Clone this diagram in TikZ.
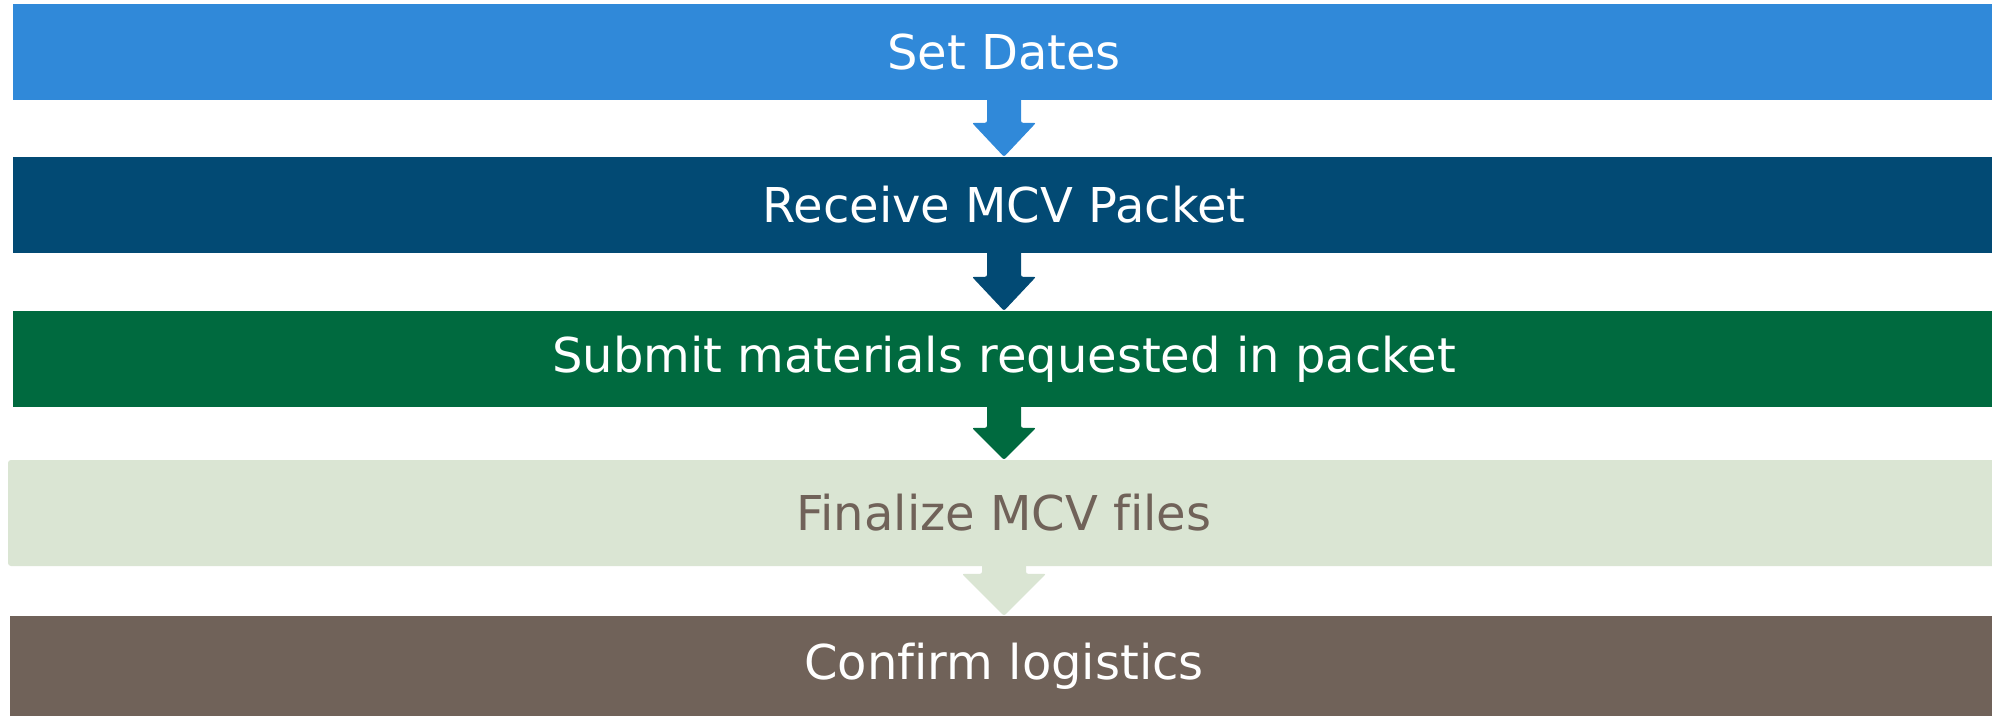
\documentclass[tikz,border=0pt]{standalone}
\usepackage{fontspec}
\setmainfont[Ligatures={NoCommon}]{DejaVu Sans}
\usetikzlibrary{calc}
\usetikzlibrary{positioning}
\definecolor{dateblue}{HTML}{3089D9}
\definecolor{packetblue}{HTML}{024A74}
\definecolor{submitgreen}{HTML}{006A3F}
\definecolor{filesgreen}{HTML}{DAE5D3}
\definecolor{logisticsbrown}{HTML}{706259}
\tikzset{bar/.style={minimum width=1982pt,minimum height=96pt,inner sep=0pt,
                     text=white,font=\fontsize{48}{58}\selectfont},
         lightbar/.style={bar,text=logisticsbrown,rounded corners=3pt,
                          minimum width=1992pt,minimum height=106pt},
         }
% block arrow: colour, from, to, stem half width, head half width, head length
\newcommand{\blockarrow}[6]{%
  \fill[#1,rounded corners=2pt] ($(#2.south)+(-#4,-3)$) -- ($(#3.north)+(-#4,-#6)$)
    -- ($(#3.north)+(-#5,-#6)$) -- (#3.north) -- ($(#3.north)+(#5,-#6)$)
    -- ($(#3.north)+(#4,-#6)$) -- ($(#2.south)+(#4,-3)$) -- cycle;}

\begin{document}
\begin{tikzpicture}[x=1pt,y=-1pt]
	\clip (0,0) rectangle (1992,715);
	\fill[white] (0,0) rectangle (1992,715);
	\node[bar,fill=dateblue] (dates) at (1004,52) {Set Dates};
	\node[bar,fill=packetblue] (packet) at (1004,205) {Receive MCV Packet};
	\node[bar,fill=submitgreen] (submit) at (1004,359) {Submit materials requested in packet};
	\node[lightbar,fill=filesgreen] (files) at (1004,513) {Finalize MCV files};
	\node[bar,fill=logisticsbrown,minimum width=1988pt,minimum height=100pt] (logistics) at (1004,666) {Confirm logistics};
	\blockarrow{dateblue}{dates}{packet}{17}{32}{34}
	\blockarrow{packetblue}{packet}{submit}{17}{32}{34}
	\blockarrow{submitgreen}{submit}{files}{17}{32}{32}
	\blockarrow{filesgreen}{files}{logistics}{22}{42}{42}
\end{tikzpicture}
\end{document}
